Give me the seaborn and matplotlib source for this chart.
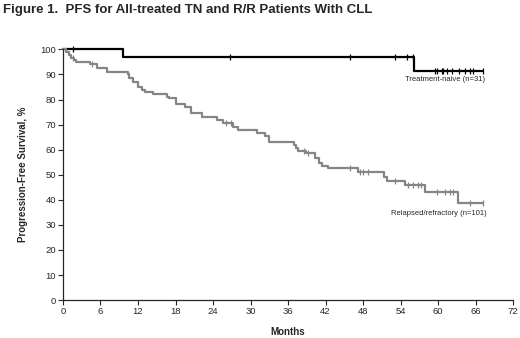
import numpy as np
import pandas as pd
import seaborn as sns
import matplotlib.pyplot as plt

# Treatment-naive arm (step times in months, PFS in %)
tn_months = [0, 9.65, 56.2, 67.2]
tn_pfs = [100, 96.8, 91.5, 91.5]
tn_censor = [1.6, 26.7, 45.9, 53.1, 55.0, 56.0, 59.5, 59.8, 60.6, 60.8,
             61.4, 62.2, 63.4, 64.3, 65.1, 65.6, 67.2]

# Relapsed/refractory arm
rr_months = [0, 0.5, 0.9, 1.3, 1.8, 2.1, 4.3, 5.4, 7.0, 10.4, 10.6, 11.2, 12.0,
             12.6, 13.2, 14.4, 16.6, 17.0, 18.0, 19.5, 20.5, 22.2, 24.6, 25.6,
             27.2, 28.0, 31.0, 32.3, 33.0, 36.9, 37.2, 37.6, 38.9, 40.3, 40.9,
             41.4, 42.4, 47.2, 51.3, 51.8, 54.7, 57.9, 63.2, 67.2]
rr_pfs = [100, 99.0, 97.7, 96.4, 95.7, 95.1, 94.0, 92.7, 91.0, 90.0, 88.4, 87.1, 85.1,
          83.8, 83.0, 82.0, 81.1, 80.5, 78.4, 77.1, 74.5, 72.9, 71.8, 70.7,
          69.1, 67.8, 66.7, 65.4, 63.1, 61.8, 60.5, 59.6, 58.5, 56.5, 54.5,
          53.6, 52.8, 51.2, 49.2, 47.6, 46.1, 43.0, 38.8, 38.8]
rr_censor = [1.6, 4.6, 26.0, 26.8, 38.6, 39.2, 45.9, 47.5, 48.0, 48.8, 53.1,
             55.2, 56.0, 56.8, 57.3, 59.8, 61.1, 61.9, 62.4, 65.1, 67.2]

x_ticks = list(range(0, 73, 6))
y_ticks = list(range(0, 101, 10))


def step_value(months, pfs, t):
    idx = np.searchsorted(months, t, side='right') - 1
    return np.asarray(pfs)[idx]


sns.set_style('ticks')
plt.rcParams['font.family'] = ['Liberation Sans', 'DejaVu Sans']

fig = plt.figure(figsize=(5.2, 3.38), dpi=100)
ax = fig.add_axes([0.121, 0.112, 0.866, 0.742])

arms = [
    (tn_months, tn_pfs, tn_censor, 'black'),
    (rr_months, rr_pfs, rr_censor, '#858585'),
]
for months, pfs, censor, color in arms:
    df = pd.DataFrame({'month': months, 'pfs': pfs})
    sns.lineplot(data=df, x='month', y='pfs', ax=ax, estimator=None,
                 drawstyle='steps-post', color=color, lw=1.6, clip_on=False)
    cy = step_value(months, pfs, censor)
    ax.plot(censor, cy, ls='none', marker='|', ms=4, mew=0.9, color=color,
            clip_on=False)

ax.set_xlim(0, 72)
ax.set_ylim(0, 100)
ax.set_xticks(x_ticks)
ax.set_yticks(y_ticks)
ax.tick_params(labelsize=6.8, length=3.5, width=0.8, pad=1.5)
for side in ['left', 'bottom']:
    ax.spines[side].set_linewidth(0.9)
sns.despine(ax=ax)

ax.set_xlabel('Months', fontsize=7, fontweight='bold', labelpad=8)
ax.set_ylabel('Progression-Free Survival, %', fontsize=7, fontweight='bold', labelpad=9)

ax.text(67.5, 88.0, 'Treatment-naive (n=31)', fontsize=5.5, ha='right', va='center')
ax.text(67.7, 34.5, 'Relapsed/refractory (n=101)', fontsize=5.5, ha='right', va='center')

fig.text(0.006, 0.97, 'Figure 1.  PFS for All-treated TN and R/R Patients With CLL',
         fontsize=9.5, fontweight='bold', ha='left', va='center')

fig.savefig('out.png', dpi=100)
